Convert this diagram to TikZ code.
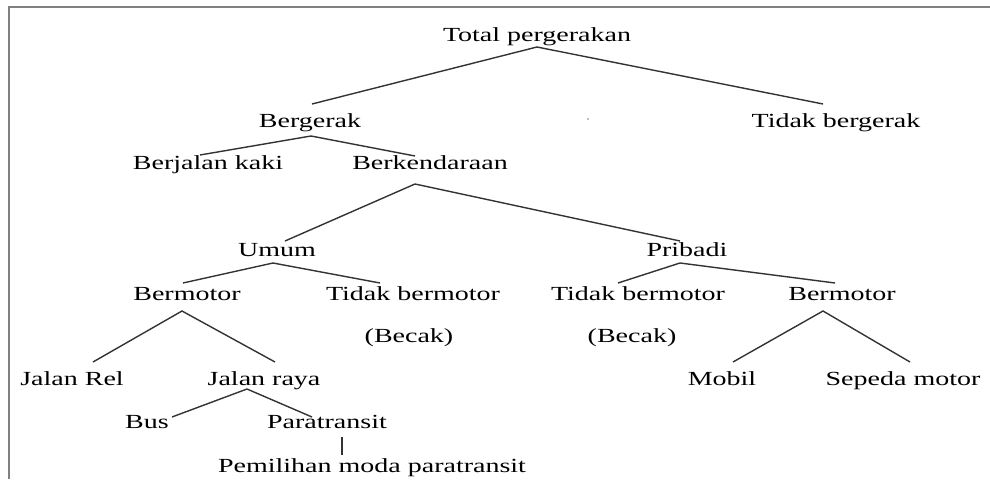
\documentclass[tikz,border=0pt]{standalone}
\usepackage{fontspec}
\setmainfont{Liberation Serif}[FakeStretch=1.4]
\begin{document}
\begin{tikzpicture}[x=1pt,y=-1pt,
  lbl/.style={anchor=base,inner sep=0pt,font=\fontsize{20pt}{24pt}\selectfont},
  edge/.style={draw=black!80,line width=1.4pt},
  frame/.style={draw=black!50,line width=2.5pt}]
\useasboundingbox (0,0) rectangle (990,479);
% frame
\draw[frame] (9,479) -- (9,7) -- (990,7);
% labels
\node[lbl] (total) at (537,41) {Total pergerakan};
\node[lbl] (berg) at (310,127) {Bergerak};
\node[lbl] (tberg) at (836,127) {Tidak bergerak};
\node[lbl] (jalan) at (208,169) {Berjalan kaki};
\node[lbl] (kend) at (430,169) {Berkendaraan};
\node[lbl] (umum) at (277,256) {Umum};
\node[lbl] (prib) at (687,256) {Pribadi};
\node[lbl] (ubm) at (187,300) {Bermotor};
\node[lbl] (utbm) at (413,300) {Tidak bermotor};
\node[lbl] (ubec) at (409,342) {(Becak)};
\node[lbl] (ptbm) at (638,300) {Tidak bermotor};
\node[lbl] (pbec) at (632,342) {(Becak)};
\node[lbl] (pbm) at (842,300) {Bermotor};
\node[lbl] (rel) at (72,385) {Jalan Rel};
\node[lbl] (raya) at (264,385) {Jalan raya};
\node[lbl] (mobil) at (722,385) {Mobil};
\node[lbl] (spm) at (903,385) {Sepeda motor};
\node[lbl] (bus) at (147,428) {Bus};
\node[lbl] (para) at (327,428) {Paratransit};
\node[lbl] (pemil) at (372,472) {Pemilihan moda paratransit};
% connector points
\coordinate (total-b) at (537,47);
\coordinate (berg-t) at (312,104);
\coordinate (tberg-t) at (823,104);
\coordinate (berg-b) at (311,136);
\coordinate (jalan-t) at (200,155);
\coordinate (kend-t) at (415,156);
\coordinate (kend-b) at (415,184);
\coordinate (umum-t) at (285,241);
\coordinate (prib-t) at (680,241);
\coordinate (umum-b) at (273,263);
\coordinate (ubm-t) at (183,283);
\coordinate (utbm-t) at (380,283);
\coordinate (prib-b) at (680,263);
\coordinate (ptbm-t) at (618,283);
\coordinate (pbm-t) at (835,283);
\coordinate (ubm-b) at (182,311);
\coordinate (rel-t) at (93,362);
\coordinate (raya-t) at (275,362);
\coordinate (pbm-b) at (823,311);
\coordinate (mobil-t) at (733,362);
\coordinate (spm-t) at (910,362);
\coordinate (raya-b) at (247,389);
\coordinate (bus-t) at (172,417);
\coordinate (para-t) at (312,417);
\coordinate (para-b) at (342,437);
\coordinate (pemil-t) at (342,455);
% connectors
\draw[edge] (berg-t) -- (total-b) -- (tberg-t);
\draw[edge] (jalan-t) -- (berg-b) -- (kend-t);
\draw[edge] (umum-t) -- (kend-b) -- (prib-t);
\draw[edge] (ubm-t) -- (umum-b) -- (utbm-t);
\draw[edge] (ptbm-t) -- (prib-b) -- (pbm-t);
\draw[edge] (rel-t) -- (ubm-b) -- (raya-t);
\draw[edge] (mobil-t) -- (pbm-b) -- (spm-t);
\draw[edge] (bus-t) -- (raya-b) -- (para-t);
\draw[edge] (para-b) -- (pemil-t);
% stray dot
\fill[black!50] (588,119) circle (0.8);
\end{tikzpicture}
\end{document}
